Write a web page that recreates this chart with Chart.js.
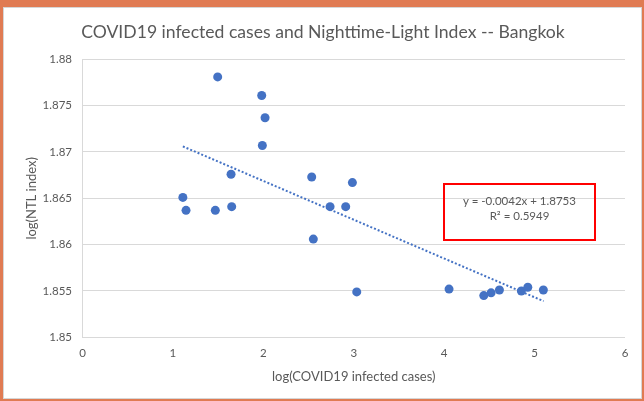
<!DOCTYPE html>
<html>
<head>
<meta charset="utf-8">
<title>COVID19 vs NTL - Bangkok</title>
<script src="https://cdn.jsdelivr.net/npm/chart.js@4.4.0/dist/chart.umd.min.js"></script>
<style>
  html, body { margin: 0; padding: 0; background: #fff; }
  #wrap { position: relative; width: 644px; height: 401px; overflow: hidden; }
  #myChart { position: absolute; left: 0; top: 0; }
  #frame {
    position: absolute; left: 0; top: 0; width: 644px; height: 401px;
    box-sizing: border-box; border-style: solid; border-color: #E07B53;
    border-width: 7px 2px 2px 3px; pointer-events: none;
  }
  #frame div { width: 100%; height: 100%; box-sizing: border-box; border: 1px solid #d6d6d6; }
  #eq {
    position: absolute; left: 443px; top: 183px; width: 153px; height: 58px;
    box-sizing: border-box; border: 2px solid #ff0000;
    font-family: Lato, sans-serif; font-size: 11.5px; color: #595959;
    text-align: center; padding-top: 8px; line-height: 15px;
  }
</style>
</head>
<body>
<div id="wrap">
  <canvas id="myChart" width="644" height="401"></canvas>
  <div id="frame"><div></div></div>
  <div id="eq">y = -0.0042x + 1.8753<br>R² = 0.5949</div>
</div>
<script>
// log(COVID19 infected cases) vs log(NTL index)
let xValues = [1.11, 1.145, 1.495, 1.469, 1.643, 1.650, 1.982, 2.019, 1.989, 2.535, 2.553,
  2.738, 2.911, 2.985, 3.033, 4.054, 4.438, 4.519, 4.611, 4.854, 4.925, 5.097];
let yValues = [1.8651, 1.8637, 1.8781, 1.8637, 1.8676, 1.8641, 1.8761, 1.8737, 1.8707, 1.8673, 1.8606,
  1.8641, 1.8641, 1.8667, 1.8549, 1.8552, 1.8545, 1.8548, 1.8551, 1.8550, 1.8554, 1.8551];

// linear trendline end points
let trendX = [1.11, 5.10];
let trendY = [1.8706, 1.8539];

let xTicks = [0, 1, 2, 3, 4, 5, 6];
let yTicks = [1.85, 1.855, 1.86, 1.865, 1.87, 1.875, 1.88];

const grey = "#595959";
Chart.defaults.font.family = "Lato";
Chart.defaults.color = grey;

let canva = document.getElementById("myChart").getContext("2d");
new Chart(canva, {
  type: "scatter",
  data: {
    datasets: [
      {
        data: trendX.map((x, i) => ({ x: x, y: trendY[i] })),
        showLine: true,
        borderColor: "#4472C4",
        borderWidth: 2,
        borderDash: [2, 2],
        pointRadius: 0,
        fill: false
      },
      {
        data: xValues.map((x, i) => ({ x: x, y: yValues[i] })),
        backgroundColor: "#4472C4",
        borderWidth: 0,
        pointRadius: 4.5,
        pointHoverRadius: 4.5
      }
    ]
  },
  options: {
    responsive: false,
    animation: false,
    events: [],
    layout: { padding: { left: 21, right: 19, top: 0, bottom: 0 } },
    plugins: {
      legend: { display: false },
      tooltip: { enabled: false },
      title: {
        display: true,
        text: "COVID19 infected cases and Nighttime-Light Index -- Bangkok",
        color: grey,
        font: { size: 17.6, weight: "normal" },
        padding: { top: 21.5, bottom: 16.7 }
      }
    },
    scales: {
      x: {
        type: "linear",
        min: 0,
        max: 6,
        afterBuildTicks: s => { s.ticks = xTicks.map(v => ({ value: v })); },
        afterFit: s => { s.height = 63.7; },
        ticks: { callback: v => String(v), font: { size: 11.5 }, padding: 9, color: grey },
        grid: { display: false, drawTicks: false },
        border: { display: false },
        title: {
          display: true,
          text: "log(COVID19 infected cases)",
          color: grey,
          font: { size: 13 },
          padding: { top: 4, bottom: 16.3 }
        }
      },
      y: {
        min: 1.85,
        max: 1.88,
        afterBuildTicks: s => { s.ticks = yTicks.map(v => ({ value: v })); },
        afterFit: s => { s.width = 61.5; },
        ticks: { callback: v => String(v), font: { size: 11.5 }, padding: 10.5, color: grey },
        grid: { color: "#d9d9d9", drawTicks: false },
        border: { display: true, color: "#d9d9d9" },
        title: {
          display: true,
          text: "log(NTL index)",
          color: grey,
          font: { size: 13 },
          padding: { top: 3.5, bottom: 4 }
        }
      }
    }
  }
});
</script>
</body>
</html>
